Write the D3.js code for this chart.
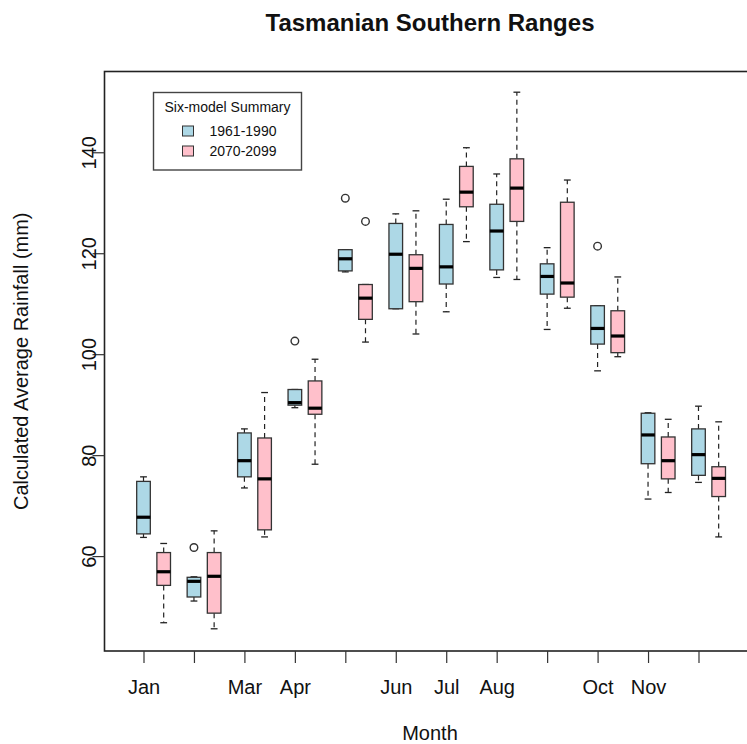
<!DOCTYPE html>
<html>
<head>
<meta charset="utf-8">
<script src="https://cdn.jsdelivr.net/npm/d3@7"></script>
<style>
  html, body { margin: 0; padding: 0; background: #fff; }
  svg { display: block; font-family: "Liberation Sans", Arial, Helvetica, sans-serif; }
</style>
</head>
<body>
<svg id="chart" width="747" height="744"></svg>
<script>
// Month positions and the labels printed under the axis
const months = [1, 2, 3, 4, 5, 6, 7, 8, 9, 10, 11, 12];
const tickLabels = ["Jan", "", "Mar", "Apr", "", "Jun", "Jul", "Aug", "", "Oct", "Nov", ""];
const yTicks = [60, 80, 100, 120, 140];

// 1961-1990: lower whisker, Q1, median, Q3, upper whisker (mm)
const baseLow    = [63.7, 51.1, 73.5, 89.4, 116.3, 109.0, 108.4, 115.2, 104.9,  96.7, 71.3, 74.6];
const baseQ1     = [64.4, 51.9, 75.7, 89.9, 116.5, 109.0, 113.9, 116.7, 111.9, 102.0, 78.3, 76.0];
const baseMedian = [67.7, 55.0, 78.9, 90.4, 118.9, 119.8, 117.3, 124.4, 115.4, 105.1, 84.0, 80.1];
const baseQ3     = [74.8, 55.8, 84.4, 93.0, 120.7, 125.9, 125.7, 129.7, 117.9, 109.6, 88.3, 85.2];
const baseHigh   = [75.7, 55.9, 85.2, 93.0, 120.7, 127.8, 130.7, 135.7, 121.1, 109.6, 88.4, 89.7];
const baseOutliers = [[], [61.7], [], [102.6], [130.9], [], [], [], [], [121.4], [], []];

// 2070-2099: lower whisker, Q1, median, Q3, upper whisker (mm)
const futLow    = [46.8, 45.6, 63.8, 78.2, 102.4, 104.0, 122.3, 114.8, 109.1,  99.5, 72.6, 63.8];
const futQ1     = [54.2, 48.7, 65.2, 88.1, 106.9, 110.4, 129.2, 126.3, 111.3, 100.3, 75.3, 71.8];
const futMedian = [56.9, 56.0, 75.3, 89.3, 111.1, 117.0, 132.1, 132.9, 114.1, 103.6, 78.9, 75.4];
const futQ3     = [60.7, 60.7, 83.4, 94.7, 113.8, 119.7, 137.2, 138.7, 130.1, 108.6, 83.6, 77.7];
const futHigh   = [62.5, 65.0, 92.4, 99.0, 113.8, 128.4, 140.9, 151.9, 134.5, 115.3, 87.1, 86.6];
const futOutliers = [[], [], [], [], [126.3], [], [], [], [], [], [], []];

const seriesNames = ["1961-1990", "2070-2099"];
const seriesColors = ["#ADD8E6", "#FFC0CB"];
const seriesOffsets = [0, 0.4];   // position of each box relative to its month

function buildSeries(low, q1, med, q3, high, outs, s) {
  return months.map((m, i) => ({
    month: m, series: s,
    low: low[i], q1: q1[i], median: med[i], q3: q3[i], high: high[i],
    outliers: outs[i]
  }));
}
const boxes = [
  ...buildSeries(baseLow, baseQ1, baseMedian, baseQ3, baseHigh, baseOutliers, 0),
  ...buildSeries(futLow, futQ1, futMedian, futQ3, futHigh, futOutliers, 1)
];

// Plot region
const plotLeft = 104.5, plotTop = 71.5, plotRight = 755, plotBottom = 651;
const svg = d3.select("#chart");

const x = d3.scaleLinear().domain([0.227, 13.12]).range([plotLeft, plotRight]);
const y = d3.scaleLinear().domain([41.2, 156.0]).range([plotBottom, plotTop]);

const boxUnits = 0.27;                    // box width in month units
const boxW = x(boxUnits) - x(0);
const stapleW = boxW * 0.5;

// Boxes
const g = svg.append("g");
boxes.forEach(d => {
  const cx = x(d.month + seriesOffsets[d.series]);
  const bg = g.append("g");
  // whiskers (dashed)
  bg.append("line")
    .attr("x1", cx).attr("x2", cx)
    .attr("y1", y(d.q3)).attr("y2", y(d.high))
    .attr("stroke", "#222").attr("stroke-width", 1.2)
    .attr("stroke-dasharray", "5,4");
  bg.append("line")
    .attr("x1", cx).attr("x2", cx)
    .attr("y1", y(d.q1)).attr("y2", y(d.low))
    .attr("stroke", "#222").attr("stroke-width", 1.2)
    .attr("stroke-dasharray", "5,4");
  // staples
  [d.low, d.high].forEach(v => {
    bg.append("line")
      .attr("x1", cx - stapleW / 2).attr("x2", cx + stapleW / 2)
      .attr("y1", y(v)).attr("y2", y(v))
      .attr("stroke", "#222").attr("stroke-width", 1.3);
  });
  // box
  bg.append("rect")
    .attr("x", cx - boxW / 2).attr("width", boxW)
    .attr("y", y(d.q3)).attr("height", y(d.q1) - y(d.q3))
    .attr("fill", seriesColors[d.series])
    .attr("stroke", "#333").attr("stroke-width", 1.3);
  // median
  bg.append("line")
    .attr("x1", cx - boxW / 2).attr("x2", cx + boxW / 2)
    .attr("y1", y(d.median)).attr("y2", y(d.median))
    .attr("stroke", "#000").attr("stroke-width", 3.2);
  // outliers
  d.outliers.forEach(v => {
    bg.append("circle")
      .attr("cx", cx).attr("cy", y(v)).attr("r", 3.8)
      .attr("fill", "none").attr("stroke", "#333").attr("stroke-width", 1.4);
  });
});

// Frame
svg.append("rect")
  .attr("x", plotLeft).attr("y", plotTop)
  .attr("width", plotRight - plotLeft).attr("height", plotBottom - plotTop)
  .attr("fill", "none").attr("stroke", "#222").attr("stroke-width", 1.6);

// X axis
const xAxis = d3.axisBottom(x)
  .tickValues(months)
  .tickSize(12)
  .tickPadding(17)
  .tickFormat((d, i) => tickLabels[i]);
const gx = svg.append("g").attr("transform", `translate(0,${plotBottom})`).call(xAxis);
gx.select(".domain").remove();
gx.selectAll(".tick line").attr("stroke", "#333").attr("stroke-width", 1.2);
gx.selectAll(".tick text").attr("font-size", 20).attr("fill", "#111")
  .attr("font-family", "Liberation Sans, Arial, sans-serif");

// Y axis
const yAxis = d3.axisLeft(y).tickValues(yTicks).tickSize(12).tickFormat(d3.format("d"));
const gy = svg.append("g").attr("transform", `translate(${plotLeft},0)`).call(yAxis);
gy.select(".domain").remove();
gy.selectAll(".tick line").attr("stroke", "#333").attr("stroke-width", 1.2);
gy.selectAll(".tick text")
  .attr("font-size", 20).attr("fill", "#111")
  .attr("font-family", "Liberation Sans, Arial, sans-serif")
  .attr("x", null).attr("dy", null)
  .attr("text-anchor", "middle")
  .attr("transform", "translate(-9,0) rotate(-90)")
  .attr("y", 0);

// Titles
svg.append("text")
  .attr("x", 430).attr("y", 31)
  .attr("text-anchor", "middle")
  .attr("font-size", 24).attr("font-weight", "bold").attr("fill", "#111")
  .text("Tasmanian Southern Ranges");
svg.append("text")
  .attr("x", 430).attr("y", 740)
  .attr("text-anchor", "middle")
  .attr("font-size", 20).attr("fill", "#111")
  .text("Month");
svg.append("text")
  .attr("transform", `translate(28,${(plotTop + plotBottom) / 2}) rotate(-90)`)
  .attr("text-anchor", "middle")
  .attr("font-size", 20).attr("fill", "#111")
  .text("Calculated Average Rainfall (mm)");

// Legend
const lg = svg.append("g").attr("transform", "translate(153.5,92.5)");
lg.append("rect")
  .attr("width", 148).attr("height", 77.5)
  .attr("fill", "#fff").attr("stroke", "#444").attr("stroke-width", 1.4);
lg.append("text")
  .attr("x", 74).attr("y", 19)
  .attr("text-anchor", "middle")
  .attr("font-size", 14).attr("fill", "#111")
  .text("Six-model Summary");
seriesNames.forEach((name, i) => {
  const row = lg.append("g").attr("transform", `translate(0,${38.5 + i * 20})`);
  row.append("rect")
    .attr("x", 29).attr("y", -5).attr("width", 11).attr("height", 10)
    .attr("fill", seriesColors[i]).attr("stroke", "#333").attr("stroke-width", 1);
  row.append("text")
    .attr("x", 56).attr("y", 5)
    .attr("font-size", 14).attr("fill", "#111")
    .text(name);
});
</script>
</body>
</html>
